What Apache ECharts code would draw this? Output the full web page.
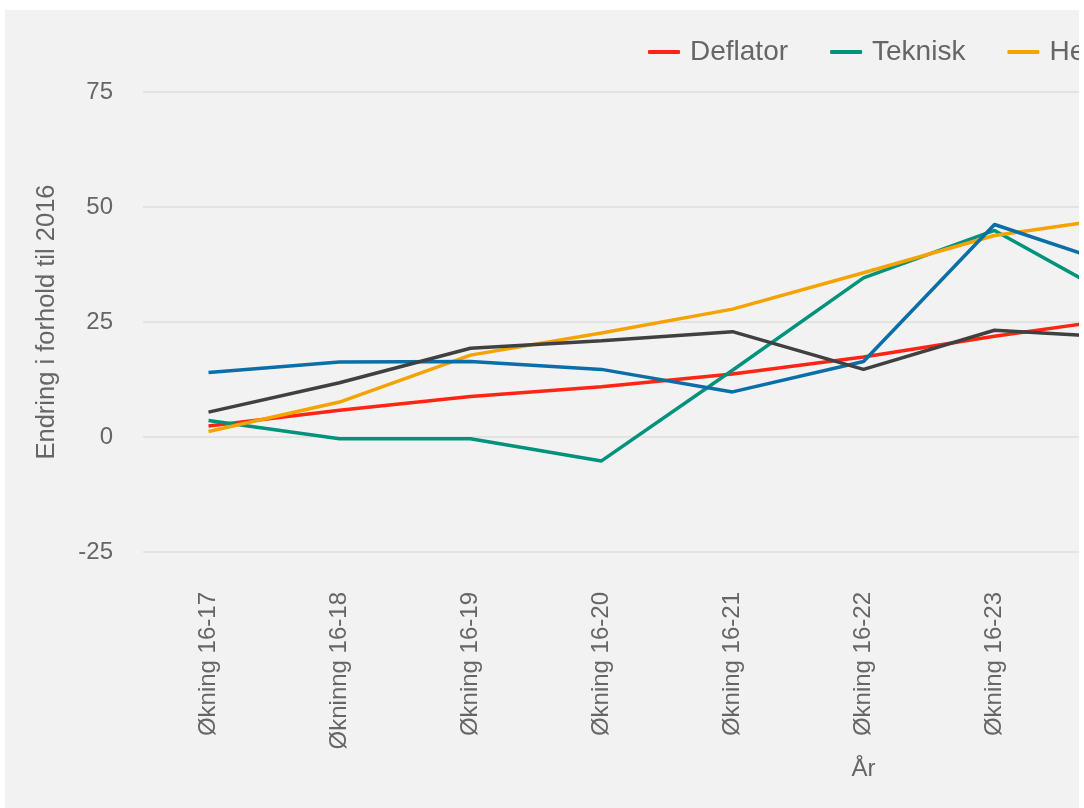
<!DOCTYPE html>
<html>
<head>
<meta charset="utf-8">
<script src="https://cdn.jsdelivr.net/npm/echarts@6/dist/echarts.min.js"></script>
<style>
  html, body { margin: 0; padding: 0; background: #fff; overflow: hidden; }
  .card { position: absolute; left: 5px; top: 10px; width: 1074px; height: 798px; background: #f2f2f2; overflow: hidden; }
  .card .chart { position: absolute; left: 0; top: 0; width: 1620px; height: 798px; }
</style>
</head>
<body>
<div class="card"><div class="chart"></div></div>
<script>
// kategorier (x-akse)
const categories = ['Økning 16-17', 'Økninng 16-18', 'Økning 16-19', 'Økning 16-20', 'Økning 16-21',
  'Økning 16-22', 'Økning 16-23', 'Økning 16-24', 'Økning 16-25', 'Økning 16-26', 'Økning 16-27']
const yTicks = [-25, 0, 25, 50, 75]

const deflator = [2.4, 5.8, 8.8, 10.9, 13.7, 17.4, 21.9, 25.9, 29.5, 33.2, 36.8]
const teknisk = [3.6, -0.4, -0.4, -5.2, 14.5, 34.6, 44.9, 29.1, 31.5, 33.0, 35.2]
const helse = [1.2, 7.6, 17.8, 22.6, 27.8, 35.7, 43.8, 47.9, 50.5, 53.0, 55.6]
const bygg = [14.0, 16.3, 16.4, 14.7, 9.8, 16.4, 46.2, 36.7, 38.0, 39.5, 41.0]
const drift = [5.4, 11.8, 19.3, 20.9, 22.9, 14.7, 23.2, 21.6, 24.0, 26.5, 28.0]

const seriesNames = ['Deflator', 'Teknisk', 'Helse', 'Bygg', 'Drift']
const seriesData = [deflator, teknisk, helse, bygg, drift]
const colors = ['#ff2413', '#00937c', '#f5a300', '#0a6fa8', '#404040']

;(function() {
  let myChart = echarts.init(document.querySelector('.card .chart'))
  let option = {
    color: colors,
    animation: false,
    textStyle: { fontFamily: 'Liberation Sans, Arial, sans-serif' },
    legend: {
      left: 638,
      top: 23,
      icon: 'roundRect',
      itemWidth: 32,
      itemHeight: 4,
      itemGap: 42,
      textStyle: { fontSize: 28, color: '#666', padding: [0, 0, 0, 5] },
      data: seriesNames
    },
    grid: {
      left: 138,
      top: 82,
      width: 1441,
      height: 460
    },
    xAxis: {
      type: 'category',
      data: categories,
      boundaryGap: true,
      name: 'År',
      nameLocation: 'middle',
      nameGap: 199,
      nameTextStyle: { fontSize: 24, color: '#666' },
      axisLine: { show: false },
      axisTick: { show: false },
      axisLabel: { rotate: 90, fontSize: 24, color: '#666', margin: 40, interval: 0 }
    },
    yAxis: {
      type: 'value',
      min: yTicks[0],
      max: yTicks[yTicks.length - 1],
      interval: 25,
      name: 'Endring i forhold til 2016',
      nameLocation: 'middle',
      nameGap: 83,
      nameTextStyle: { fontSize: 25.5, color: '#666' },
      axisLine: { show: false },
      axisTick: { show: false },
      axisLabel: { fontSize: 24, color: '#666', margin: 30 },
      splitLine: { lineStyle: { color: '#e3e3e3', width: 2 } }
    },
    series: seriesNames.map(function(n, i) {
      return {
        name: n,
        type: 'line',
        data: seriesData[i],
        symbol: 'none',
        lineStyle: { width: 3.5 }
      }
    })
  }
  myChart.setOption(option)
})()
</script>
</body>
</html>
